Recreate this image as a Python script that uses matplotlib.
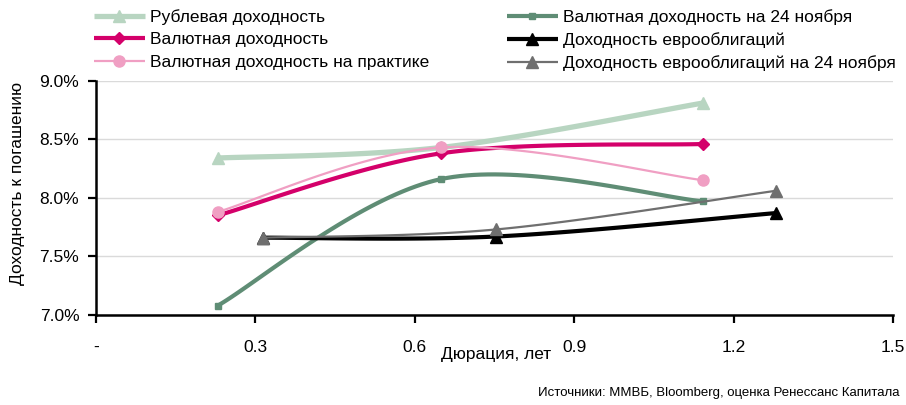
import numpy as np
import matplotlib
matplotlib.use("Agg")
import matplotlib.pyplot as plt
from matplotlib.ticker import FixedLocator, FuncFormatter

plt.rcParams["font.family"] = ["Liberation Sans", "DejaVu Sans"]

# Duration (years) and yield-to-maturity (%) for each curve
rub_x = [0.229, 0.649, 1.143]
rub_y = [8.34, 8.43, 8.81]

fx_x = [0.229, 0.649, 1.143]
fx_y = [7.85, 8.38, 8.46]

fx_real_x = [0.229, 0.649, 1.143]
fx_real_y = [7.88, 8.43, 8.15]

fx_nov_x = [0.229, 0.649, 1.143]
fx_nov_y = [7.08, 8.16, 7.97]

euro_x = [0.314, 0.752, 1.279]
euro_y = [7.66, 7.67, 7.87]

euro_nov_x = [0.314, 0.752, 1.279]
euro_nov_y = [7.66, 7.73, 8.06]

labels = [
    "Рублевая доходность",
    "Валютная доходность",
    "Валютная доходность на практике",
    "Валютная доходность на 24 ноября",
    "Доходность еврооблигаций",
    "Доходность еврооблигаций на 24 ноября",
]

x_ticks = [0, 0.3, 0.6, 0.9, 1.2, 1.5]
x_ticklabels = ["-", "0.3", "0.6", "0.9", "1.2", "1.5"]
y_ticks = [7.0, 7.5, 8.0, 8.5, 9.0]

STEPS = 40


def smooth(xs, ys, steps=STEPS):
    """Bezier smoothing through the points (Excel-style smoothed line)."""
    pts = np.column_stack([xs, ys]).astype(float)
    ext = np.vstack([pts[0], pts, pts[-1]])
    out = [pts[0]]
    t = np.linspace(0, 1, steps + 1)[1:, None]
    for i in range(len(pts) - 1):
        p0, p1, p2, p3 = ext[i], ext[i + 1], ext[i + 2], ext[i + 3]
        c1 = p1 + (p2 - p0) / 6
        c2 = p2 - (p3 - p1) / 6
        seg = ((1 - t) ** 3 * p1 + 3 * (1 - t) ** 2 * t * c1
               + 3 * (1 - t) * t ** 2 * c2 + t ** 3 * p2)
        out.extend(seg)
    out = np.array(out)
    marks = [i * steps for i in range(len(pts))]
    return out[:, 0], out[:, 1], marks


series = [
    (rub_x, rub_y, dict(color="#b8d5c1", lw=3.8, marker="^", ms=8)),
    (fx_x, fx_y, dict(color="#d4006a", lw=3.0, marker="D", ms=6)),
    (fx_real_x, fx_real_y, dict(color="#f09fc3", lw=1.6, marker="o", ms=8)),
    (fx_nov_x, fx_nov_y, dict(color="#5f8d75", lw=3.0, marker="s", ms=5)),
    (euro_x, euro_y, dict(color="#000000", lw=3.0, marker="^", ms=8)),
    (euro_nov_x, euro_nov_y, dict(color="#6f6f6f", lw=1.6, marker="^", ms=8)),
]

fig = plt.figure(figsize=(9.06, 4.05), dpi=100)
ax = fig.add_axes([0.106, 0.2222, 0.8797, 0.5785])

for (xs, ys, st), lab in zip(series, labels):
    sx, sy, marks = smooth(xs, ys)
    ax.plot(sx, sy, color=st["color"], lw=st["lw"], marker=st["marker"],
            ms=st["ms"], mfc=st["color"], mec=st["color"], markevery=marks,
            label=lab, solid_capstyle="butt")

ax.set_xlim(0, 1.5)
ax.set_ylim(7.0, 9.0)
ax.xaxis.set_major_locator(FixedLocator(x_ticks))
ax.set_xticklabels(x_ticklabels)
ax.yaxis.set_major_locator(FixedLocator(y_ticks))
ax.yaxis.set_major_formatter(FuncFormatter(lambda v, _: f"{v:.1f}%"))

ax.grid(axis="y", color="#dadada", lw=1.0)
ax.set_axisbelow(True)
for s in ("top", "right"):
    ax.spines[s].set_visible(False)
for s in ("left", "bottom"):
    ax.spines[s].set_linewidth(1.8)
    ax.spines[s].set_color("black")
ax.tick_params(axis="both", direction="out", length=6, width=1.6, labelsize=12.5)
ax.tick_params(axis="x", pad=12)
ax.tick_params(axis="y", pad=6)

ax.set_ylabel("Доходность к погашению", fontsize=12.5)
ax.yaxis.set_label_coords(-0.089, 0.56)
ax.set_xlabel("Дюрация, лет", fontsize=12.5)
ax.xaxis.set_label_coords(0.502, -0.135)

fig.legend(loc="upper left", bbox_to_anchor=(0.104, 0.978), ncol=2, frameon=False,
           fontsize=12.5, handlelength=2.9, handletextpad=0.3, labelspacing=0.42,
           columnspacing=4.5, borderaxespad=0, borderpad=0)

fig.text(0.993, 0.03, "Источники: ММВБ, Bloomberg, оценка Ренессанс Капитала",
         ha="right", va="center", fontsize=9.5)

fig.savefig("out.png", dpi=100)
